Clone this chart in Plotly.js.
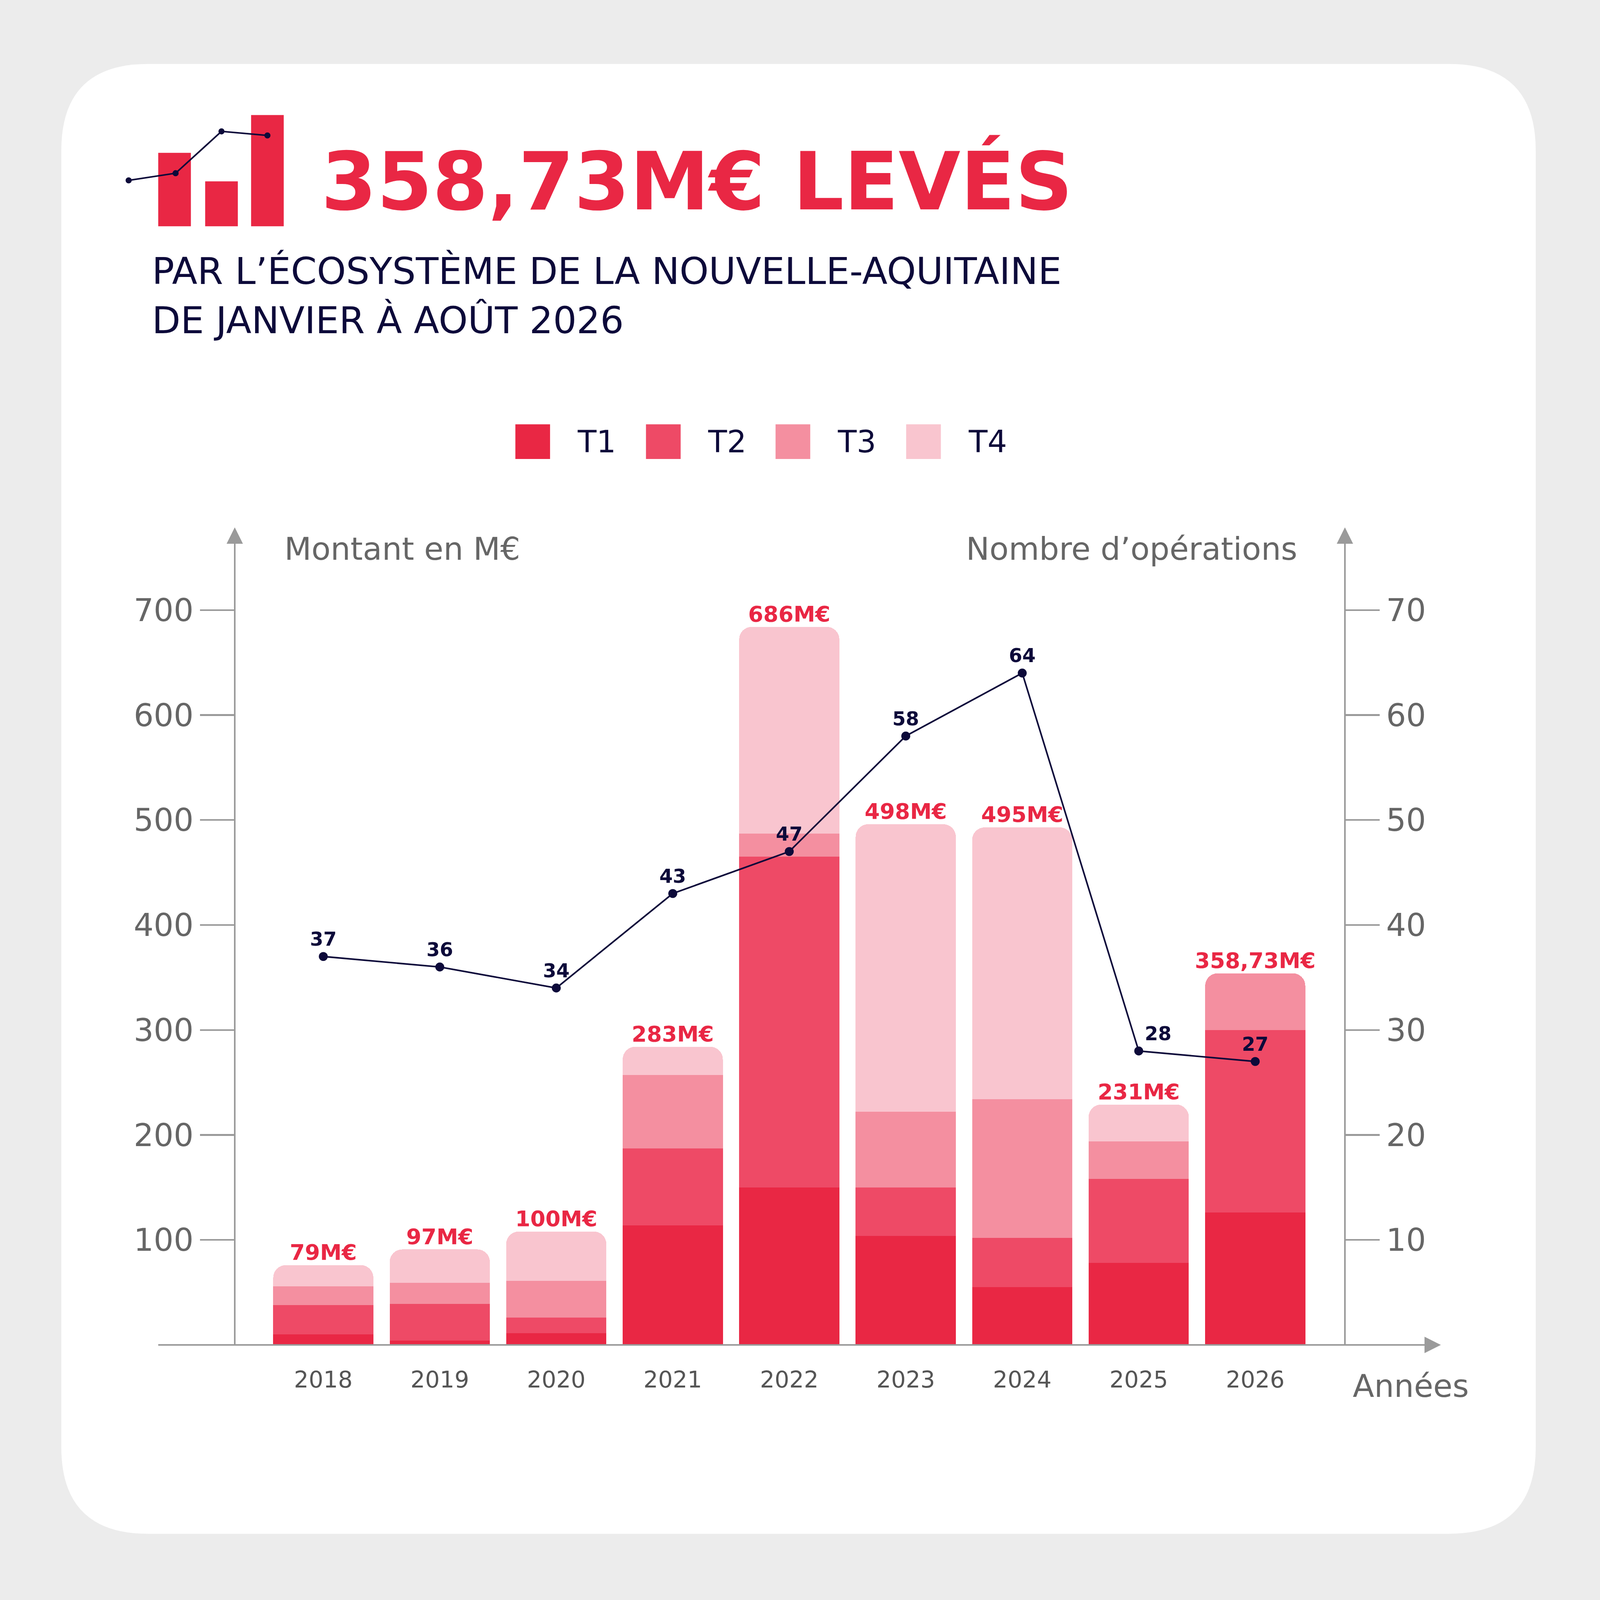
<!DOCTYPE html>
<html><head><meta charset="utf-8">
<script src="https://cdn.plot.ly/plotly-3.0.1.min.js"></script>
<style>html,body{margin:0;padding:0;overflow:hidden;background:#ececec}</style></head>
<body><div id="c"></div>
<script>
const years = ['2018','2019','2020','2021','2022','2023','2024','2025','2026'];
const t1 = [10, 4, 11, 114, 150, 104, 55, 78, 126];
const t2 = [28, 35, 15, 73, 315, 46, 47, 80, 174];
const t3 = [18, 20, 35, 70, 22, 72, 132, 36, 54];
const t4 = [20, 32, 47, 27, 197, 274, 259, 35, 0];
const totalLabels = ['79M€','97M€','100M€','283M€','686M€','498M€','495M€','231M€','358,73M€'];
const operations = [37, 36, 34, 43, 47, 58, 64, 28, 27];
const seriesNames = ['T1','T2','T3','T4'];
const colors = ['#E92744','#EE4A66','#F48FA0','#F9C5CF'];

const FONT = 'DejaVu Sans';
const W = Math.min(window.innerWidth, window.innerHeight) || 5000;
const k = W/5000;
const S = W/1568;
const L = 230*S, R = 1318*S, T = 525*S, B = 1318*S;
const px = x => (x*S - L)/(R-L);
const py = y => (B - y*S)/(B-T);
const yMax = (1318-525)/(720/700);
const f = n => n*k;

const totals = years.map((_,i)=>t1[i]+t2[i]+t3[i]+t4[i]);
const bars = [t1,t2,t3,t4].map((v,j)=>({
  type:'bar', x:years, y:v, name:seriesNames[j], marker:{color:colors[j]},
  width:0.86, hoverinfo:'skip', showlegend:false
}));
const totalText = {type:'scatter', mode:'text', x:years, y:totals, text:totalLabels,
  textposition:'top center', textfont:{family:FONT, size:f(68), color:'#E92744', weight:'bold'},
  showlegend:false, hoverinfo:'skip', cliponaxis:false};
const line = {type:'scatter', mode:'lines+markers+text', x:years, y:operations, yaxis:'y2',
  text:operations.map(String), textposition:['top center','top center','top center','top center','top center','top center','top center','top right','top center'],
  line:{color:'#0D0A3A', width:f(5)}, marker:{color:'#0D0A3A', size:f(28)},
  textfont:{family:FONT, size:f(60), color:'#0D0A3A', weight:'bold'},
  showlegend:false, cliponaxis:false};

function rrect(x0,y0,x1,y1,r){
  const X=x=>px(x), Y=y=>py(y);
  return `M${X(x0+r)},${Y(y0)} L${X(x1-r)},${Y(y0)} Q${X(x1)},${Y(y0)} ${X(x1)},${Y(y0+r)} L${X(x1)},${Y(y1-r)} Q${X(x1)},${Y(y1)} ${X(x1-r)},${Y(y1)} L${X(x0+r)},${Y(y1)} Q${X(x0)},${Y(y1)} ${X(x0)},${Y(y1-r)} L${X(x0)},${Y(y0+r)} Q${X(x0)},${Y(y0)} ${X(x0+r)},${Y(y0)} Z`;
}
const gray = '#9a9a9a';
const P = {xref:'paper', yref:'paper'};
const shapes = [
  {...P, type:'path', path:rrect(60,63,1505,1503,85), fillcolor:'#ffffff', line:{width:0}, layer:'below'},
  {...P, type:'line', x0:px(155), x1:px(1400), y0:0, y1:0, line:{color:gray,width:f(5)}},
  {...P, type:'path', path:`M${px(1396)},${py(1310)} L${px(1412)},${py(1318)} L${px(1396)},${py(1326)} Z`, fillcolor:gray, line:{width:0}},
  {...P, type:'line', x0:0, x1:0, y0:0, y1:py(528), line:{color:gray,width:f(5)}},
  {...P, type:'path', path:`M${px(222)},${py(533)} L${px(230)},${py(517)} L${px(238)},${py(533)} Z`, fillcolor:gray, line:{width:0}},
  {...P, type:'line', x0:1, x1:1, y0:0, y1:py(528), line:{color:gray,width:f(5)}},
  {...P, type:'path', path:`M${px(1310)},${py(533)} L${px(1318)},${py(517)} L${px(1326)},${py(533)} Z`, fillcolor:gray, line:{width:0}},
  {...P, type:'rect', x0:px(155), x1:px(187), y0:py(222), y1:py(150), fillcolor:'#E92744', line:{width:0}},
  {...P, type:'rect', x0:px(201), x1:px(233), y0:py(222), y1:py(178), fillcolor:'#E92744', line:{width:0}},
  {...P, type:'rect', x0:px(246), x1:px(278), y0:py(222), y1:py(113), fillcolor:'#E92744', line:{width:0}},
  {...P, type:'path', path:`M${px(126)},${py(177)} L${px(172)},${py(170)} L${px(217)},${py(129)} L${px(262)},${py(133)}`, line:{color:'#0D0A3A',width:f(5)}},
];
[[126,177],[172,170],[217,129],[262,133]].forEach(([x,y])=>shapes.push({...P, type:'circle', x0:px(x-3), x1:px(x+3), y0:py(y+3), y1:py(y-3), fillcolor:'#0D0A3A', line:{width:0}}));
const legX = [505,633,760,888];
legX.forEach((x,j)=>shapes.push({...P, type:'rect', x0:px(x), x1:px(x+34), y0:py(450), y1:py(416), fillcolor:colors[j], line:{width:0}}));

const ann = (text,x,y,size,color,anchor,weight)=>({...P, text, x:px(x), y:py(y), xanchor:anchor||'left', yanchor:'middle', showarrow:false, font:{family:FONT, size:f(size), color, weight:weight||'normal'}});
const annotations = [
  ann('358,73M€ LEVÉS',314,178,250,'#E92744','left','bold'),
  ann('PAR L’ÉCOSYSTÈME DE LA NOUVELLE-AQUITAINE',148,266,116,'#0D0A3A'),
  ann('DE JANVIER À AOÛT 2026',148,314,116,'#0D0A3A'),
  ann('Montant en M€',278,538,98,'#666666'),
  ann('Nombre d’opérations',1272,538,98,'#666666','right'),
  ann('Années',1325,1358,98,'#666666'),
];
seriesNames.forEach((n,j)=>annotations.push(ann(n,legX[j]+60,433,96,'#0D0A3A')));

const axCommon = {range:[0,yMax], tickvals:[100,200,300,400,500,600,700], showgrid:false, zeroline:false,
  showline:false, ticks:'outside', ticklen:f(108), tickcolor:gray, tickwidth:f(5),
  tickfont:{family:FONT, size:f(98), color:'#666666'}, fixedrange:true};
Plotly.newPlot('c', [...bars, totalText, line], {
  width:W, height:W, margin:{l:L, r:W-R, t:T, b:W-B, pad:0},
  paper_bgcolor:'#ececec', plot_bgcolor:'rgba(0,0,0,0)',
  barmode:'stack', barcornerradius:f(40), showlegend:false,
  xaxis:{type:'category', range:[-0.76,8.77], showgrid:false, zeroline:false, showline:false,
    ticks:'outside', ticklen:f(45), tickcolor:'rgba(0,0,0,0)',
    tickfont:{family:FONT, size:f(72), color:'#555555'}},
  yaxis:{...axCommon, side:'left', ticksuffix:'  '},
  yaxis2:{...axCommon, range:[0,yMax/10], tickvals:[10,20,30,40,50,60,70], overlaying:'y', side:'right', tickprefix:' '},
  shapes, annotations
}, {staticPlot:true});
</script></body></html>
